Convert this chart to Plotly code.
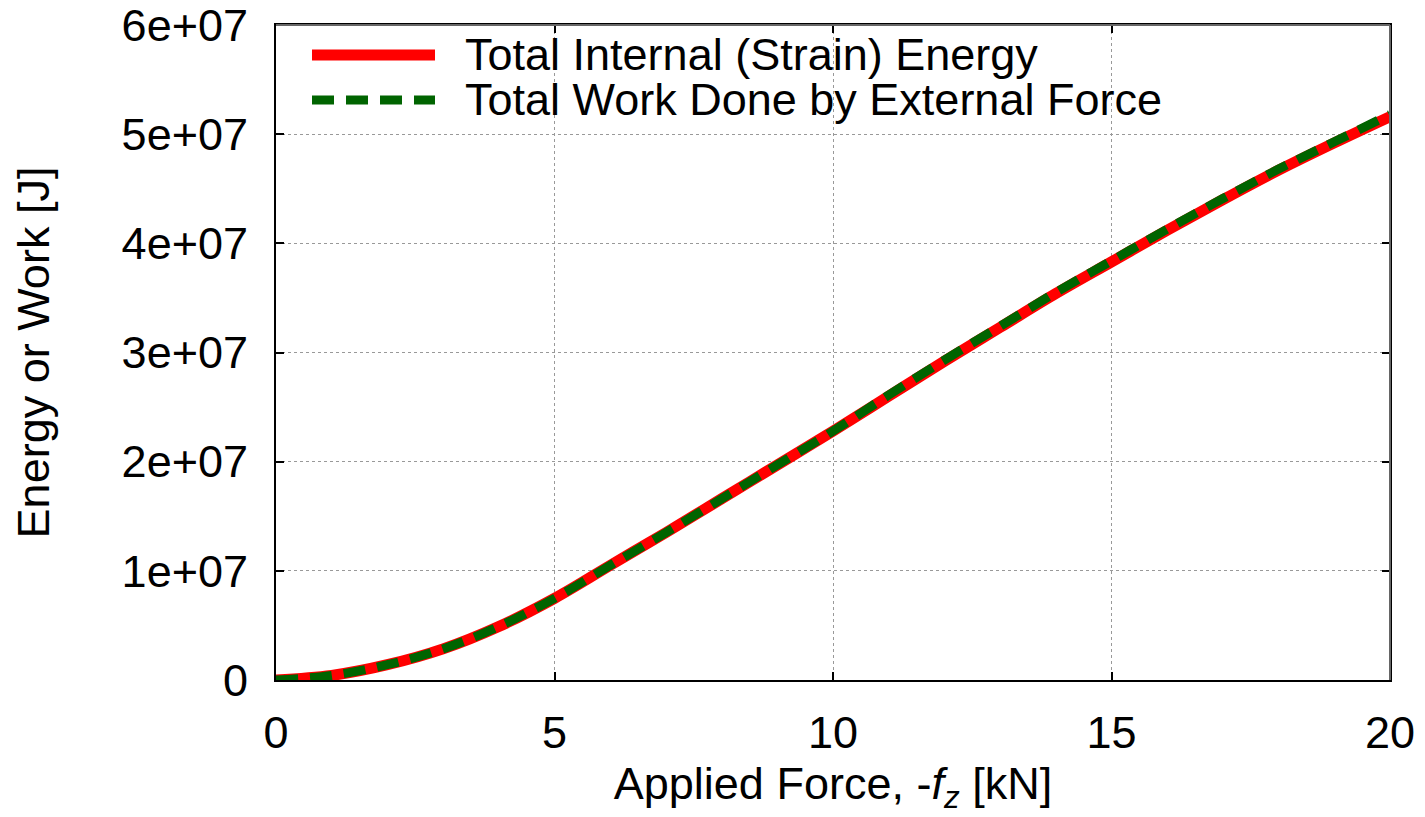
import plotly.graph_objects as go

# Data
force_kN = [0, 1, 2, 3, 4, 5, 6, 7, 8, 9, 10, 11, 12, 13, 14, 15, 16, 17, 18, 19, 20]
internal_energy = [0.0, 0.42e6, 1.4e6, 2.85e6, 4.9e6, 7.48e6, 10.5e6, 13.5e6, 16.6e6, 19.7e6,
                   22.8e6, 26.0e6, 29.2e6, 32.3e6, 35.4e6, 38.3e6, 41.2e6, 44.0e6, 46.7e6, 49.2e6, 51.6e6]
external_work = [0.0, 0.42e6, 1.4e6, 2.85e6, 4.9e6, 7.48e6, 10.5e6, 13.5e6, 16.6e6, 19.7e6,
                 22.8e6, 26.1e6, 29.3e6, 32.4e6, 35.5e6, 38.4e6, 41.3e6, 44.1e6, 46.8e6, 49.3e6, 51.8e6]

x_ticks = [0, 5, 10, 15, 20]
x_tick_labels = ["0", "5", "10", "15", "20"]
y_ticks = [0, 1e7, 2e7, 3e7, 4e7, 5e7, 6e7]
y_tick_labels = ["0", "1e+07", "2e+07", "3e+07", "4e+07", "5e+07", "6e+07"]

series_names = ["Total Internal (Strain) Energy", "Total Work Done by External Force"]

FONT = "Liberation Sans, Arial, Helvetica, sans-serif"
FS = 45

fig = go.Figure()
fig.add_trace(go.Scatter(x=force_kN, y=internal_energy, mode="lines", name=series_names[0],
                         line=dict(color="#ff0000", width=11, shape="spline", smoothing=1.0)))
fig.add_trace(go.Scatter(x=force_kN, y=external_work, mode="lines", name=series_names[1],
                         line=dict(color="#006400", width=9, dash="22px,12px", shape="spline", smoothing=1.0)))

# Manual legend (gnuplot style, long samples)
L, R, T, B = 276, 1390, 25, 680
W, H = R - L, B - T
def px(x):
    return (x - L) / W
def py(y):
    return (B - y) / H

legend_rows = [(55, "#ff0000", 11, "solid"), (100, "#006400", 9, "22px,12px")]
shapes = []
annotations = []
for (yy, col, wd, ds), name in zip(legend_rows, series_names):
    shapes.append(dict(type="line", xref="paper", yref="paper", x0=px(312), x1=px(435),
                       y0=py(yy), y1=py(yy), line=dict(color=col, width=wd, dash=ds)))
    annotations.append(dict(xref="paper", yref="paper", x=px(463), y=py(yy), text=name,
                            showarrow=False, xanchor="left", yanchor="middle",
                            font=dict(family=FONT, size=FS, color="black")))

# gray top/right border
shapes.append(dict(type="line", xref="paper", yref="paper", x0=0, x1=1, y0=1, y1=1,
                   line=dict(color="#666666", width=2)))
shapes.append(dict(type="line", xref="paper", yref="paper", x0=1, x1=1, y0=0, y1=1,
                   line=dict(color="#666666", width=2)))

fig.update_layout(
    width=1425, height=817,
    margin=dict(l=L, r=1425 - R, t=T, b=817 - B),
    paper_bgcolor="white", plot_bgcolor="white",
    showlegend=False,
    font=dict(family=FONT, size=FS, color="black"),
    shapes=shapes,
    annotations=annotations,
)
fig.update_xaxes(
    range=[0, 20], tickvals=x_ticks, ticktext=x_tick_labels, automargin=False,
    showline=True, linecolor="black", linewidth=2, mirror="ticks",
    ticks="inside", ticklen=8, tickwidth=2, tickcolor="black",
    showgrid=True, gridcolor="#999999", gridwidth=1, griddash="dot",
    zeroline=False, ticklabelstandoff=12, ticklabeloverflow="allow",
    title=dict(text="Applied Force, -<i>f</i><sub><i>z</i></sub> [kN]", standoff=8,
               font=dict(family=FONT, size=FS)),
)
fig.update_yaxes(
    range=[0, 6.0001e7], tickvals=y_ticks, ticktext=y_tick_labels, automargin=False,
    showline=True, linecolor="black", linewidth=2, mirror="ticks",
    ticks="inside", ticklen=8, tickwidth=2, tickcolor="black",
    showgrid=True, gridcolor="#999999", gridwidth=1, griddash="dot",
    zeroline=False, ticklabelstandoff=17, ticklabeloverflow="allow",
    title=dict(text="Energy or Work [J]", standoff=58, font=dict(family=FONT, size=FS)),
)

fig.write_html("out.html")
